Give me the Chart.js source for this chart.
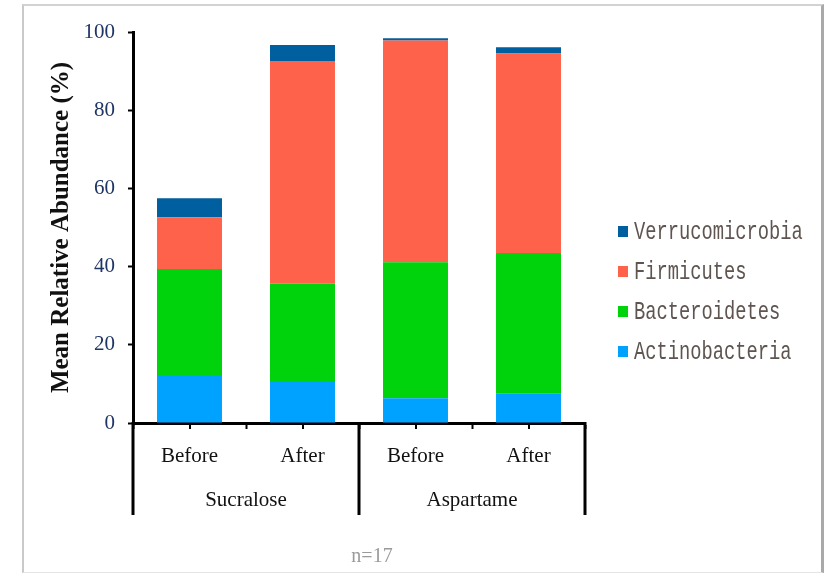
<!DOCTYPE html>
<html>
<head>
<meta charset="utf-8">
<script src="https://cdn.jsdelivr.net/npm/chart.js@4.4.0/dist/chart.umd.min.js"></script>
<style>
  html, body { margin: 0; padding: 0; background: #fff; }
  #frame {
    position: absolute; left: 22px; top: 4px; width: 797px; height: 566px;
    border-left: 2px solid #c9c9c9; border-top: 2px solid #d2d2d2;
    border-right: 3px solid #a9a9a9; border-bottom: 1px solid #e4e4e4;
  }
  #abundanceChart { position: absolute; left: 0; top: 0; }
</style>
</head>
<body>
<div id="frame"></div>
<canvas id="abundanceChart" width="828" height="574"></canvas>
<script>
const conditions = ['Before', 'After', 'Before', 'After']
const sweeteners = ['Sucralose', 'Aspartame']

// mean relative abundance (%) per phylum, same order as conditions
const actinobacteria = [12.0, 10.5, 6.3, 7.6]
const bacteroidetes = [27.4, 25.2, 34.8, 35.9]
const firmicutes = [13.2, 56.9, 56.7, 51.0]
const verrucomicrobia = [4.9, 4.1, 0.6, 1.6]

const yMax = 100
const yStep = 20
const sampleNote = 'n=17'

const serif = '"Liberation Serif", "Times New Roman", serif'

// phylum legend on the right, top of the stack first
const sideLegend = {
    id: 'sideLegend',
    afterDraw(chart) {
        const {ctx} = chart
        const items = chart.data.datasets.slice().reverse()
        ctx.save()
        ctx.font = '25px "Liberation Mono", monospace'
        ctx.textBaseline = 'alphabetic'
        items.forEach((ds, i) => {
            const baseY = 239 + i * 40
            ctx.fillStyle = ds.backgroundColor
            ctx.fillRect(618, baseY - 13, 10, 11)
            ctx.save()
            ctx.translate(634, baseY)
            ctx.scale(0.75, 1)
            ctx.fillStyle = '#5e5450'
            ctx.fillText(ds.label, 0, 0)
            ctx.restore()
        })
        ctx.restore()
    }
}

// second row of the x axis: sweetener groups with separators
const groupAxis = {
    id: 'groupAxis',
    afterDraw(chart) {
        const {ctx, scales: {x}} = chart
        const bottom = x.top
        const step = x.getPixelForValue(1) - x.getPixelForValue(0)
        const perGroup = conditions.length / sweeteners.length
        const start = x.getPixelForValue(0) - step / 2

        ctx.save()
        ctx.strokeStyle = '#000'
        ctx.lineWidth = 2
        conditions.forEach((_, i) => {
            const px = Math.round(x.getPixelForValue(i))
            ctx.beginPath()
            ctx.moveTo(px, bottom)
            ctx.lineTo(px, bottom + 6)
            ctx.stroke()
        })

        ctx.lineWidth = 3
        for (let g = 0; g <= sweeteners.length; g++) {
            const px = Math.round(start + g * perGroup * step)
            ctx.beginPath()
            ctx.moveTo(px, bottom - 1)
            ctx.lineTo(px, 515)
            ctx.stroke()
        }

        ctx.font = '21px ' + serif
        ctx.textAlign = 'center'
        ctx.textBaseline = 'middle'
        ctx.fillStyle = '#111'
        sweeteners.forEach((name, g) => {
            const cx = start + (g + 0.5) * perGroup * step
            ctx.fillText(name, cx, 500)
        })

        ctx.fillStyle = '#9a9a9a'
        ctx.font = '20px ' + serif
        ctx.fillText(sampleNote, 372, 557)
        ctx.restore()
    }
}

const createAbundancePlot = () => {
    const ctx = document.getElementById('abundanceChart').getContext('2d')
    new Chart(ctx, {
        type: 'bar',
        data: {
            labels: conditions,
            datasets: [
                {label: 'Actinobacteria', data: actinobacteria, backgroundColor: '#00a2ff'},
                {label: 'Bacteroidetes', data: bacteroidetes, backgroundColor: '#00d20c'},
                {label: 'Firmicutes', data: firmicutes, backgroundColor: '#ff624b'},
                {label: 'Verrucomicrobia', data: verrucomicrobia, backgroundColor: '#005f9e'},
            ]
        },
        options: {
            responsive: false,
            animation: false,
            layout: {padding: {left: 0, top: 32, right: 243, bottom: 0}},
            datasets: {bar: {categoryPercentage: 1, barPercentage: 0.575}},
            plugins: {legend: {display: false}, tooltip: {enabled: false}},
            scales: {
                x: {
                    stacked: true,
                    afterFit: s => { s.height = 151 },
                    border: {display: true, color: '#000', width: 3},
                    grid: {
                        offset: true, drawOnChartArea: false, drawTicks: true,
                        tickLength: 6, tickWidth: 2, tickColor: '#000',
                    },
                    ticks: {color: '#111', padding: 15, font: {family: serif, size: 21}},
                },
                y: {
                    stacked: true,
                    min: 0,
                    max: yMax,
                    afterFit: s => { s.width = 133 },
                    border: {display: true, color: '#000', width: 3},
                    grid: {
                        drawOnChartArea: false, drawTicks: true,
                        tickLength: 5, tickWidth: 2, tickColor: '#000',
                    },
                    ticks: {
                        stepSize: yStep, color: '#1f3566', padding: 13,
                        font: {family: serif, size: 21},
                    },
                    title: {
                        display: true,
                        text: 'Mean Relative Abundance (%)',
                        color: '#111',
                        padding: {top: 47, bottom: 0},
                        font: {family: serif, size: 25, weight: 'bold'},
                    },
                },
            },
        },
        plugins: [sideLegend, groupAxis],
    })
}

document.addEventListener('DOMContentLoaded', () => {
    createAbundancePlot()
})
</script>
</body>
</html>
